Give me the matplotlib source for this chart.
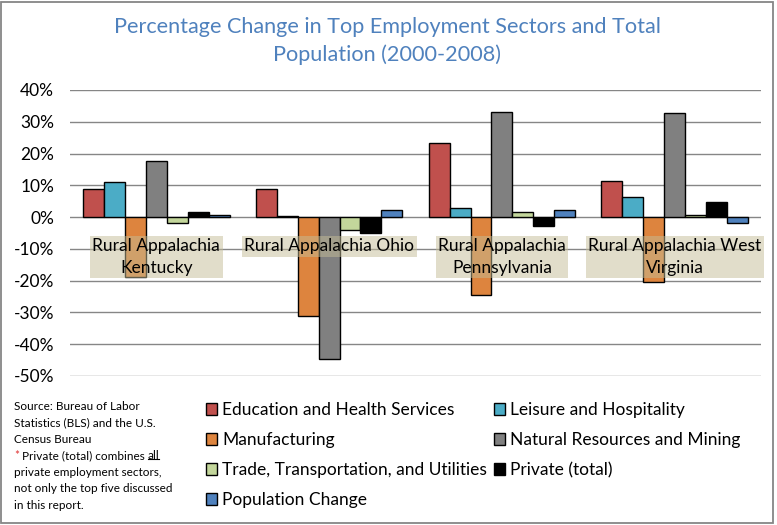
import matplotlib
matplotlib.use("Agg")
import matplotlib.pyplot as plt
import numpy as np
from matplotlib.patches import Rectangle, Patch
from matplotlib.lines import Line2D

plt.rcParams['font.family'] = ['Lato', 'DejaVu Sans']

# ---------------- data ----------------
categories = ["Rural Appalachia\nKentucky", "Rural Appalachia Ohio",
              "Rural Appalachia\nPennsylvania", "Rural Appalachia West\nVirginia"]
series_names = ["Education and Health Services", "Leisure and Hospitality",
                "Manufacturing", "Natural Resources and Mining",
                "Trade, Transportation, and Utilities", "Private (total)",
                "Population Change"]
education = [9.0, 8.7, 23.3, 11.3]
leisure = [11.2, 0.5, 2.8, 6.2]
manufacturing = [-19.0, -31.2, -24.6, -20.5]
natural_resources = [17.5, -44.8, 33.2, 32.9]
trade = [-2.0, -3.9, 1.5, 0.8]
private_total = [1.6, -4.9, -2.7, 4.7]
population = [0.8, 2.2, 2.2, -1.7]
yticks = [40, 30, 20, 10, 0, -10, -20, -30, -40, -50]
title = "Percentage Change in Top Employment Sectors and Total\nPopulation (2000-2008)"
source_lines = ["Source: Bureau of Labor", "Statistics (BLS) and the U.S.",
                "Census Bureau", None, "private employment sectors,",
                "not only the top five discussed", "in this report."]

series = [education, leisure, manufacturing, natural_resources, trade,
          private_total, population]
colors = ["#C0504D", "#4BACC6", "#DD843E", "#808080", "#C3D69B", "#000000", "#4F81BD"]

W, H = 777, 525
fig = plt.figure(figsize=(W / 100, H / 100), dpi=100)
ax = fig.add_axes([70 / W, 1 - 376 / H, 691 / W, 286 / H])

x = np.arange(len(categories))
gap = 1.26
w = 1.0 / (len(series) + gap)
for i, (vals, c) in enumerate(zip(series, colors)):
    ax.bar(x + (i - (len(series) - 1) / 2) * w, vals, width=w, color=c,
           edgecolor="black", linewidth=1.0, zorder=2)

ax.set_xlim(-0.5, len(categories) - 0.5)
ax.set_ylim(-50, 40)
ax.set_yticks(yticks)
ax.set_yticklabels([f"{t}%" for t in yticks], fontsize=12.5)
ax.set_xticks([])
ax.tick_params(axis="y", length=0, pad=11.5)
for s in ax.spines.values():
    s.set_visible(False)
ax.yaxis.grid(True, color="#868686", linewidth=1.0)
ax.set_axisbelow(True)

for i, lab in enumerate(categories):
    ax.annotate(lab, xy=(i, 0), xycoords="data", xytext=(0, -21.0),
                textcoords="offset pixels", ha="center", va="top",
                multialignment="center", fontsize=12.5, linespacing=1.42,
                zorder=5, annotation_clip=False,
                bbox=dict(boxstyle="square,pad=0.14", fc="#C4BD97", ec="none", alpha=0.5))

# title
fig.text(387 / W, 1 - 41 / H, title, ha="center", va="center", fontsize=15.6,
         color="#4F81BD", linespacing=1.4)

# legends
handles = [Patch(facecolor=c, edgecolor="black", linewidth=1.0) for c in colors]
order1 = [0, 2, 4, 6]
order2 = [1, 3, 5]
common = dict(frameon=False, fontsize=12.5, handlelength=0.65, handleheight=0.65,
              handletextpad=0.3, labelspacing=0.81, borderpad=0, borderaxespad=0,
              loc="center left")
fig.legend([handles[k] for k in order1], [series_names[k] for k in order1],
           bbox_to_anchor=(206 / W, 1 - 455 / H), **common)
fig.legend([handles[k] for k in order2], [series_names[k] for k in order2],
           bbox_to_anchor=(494 / W, 1 - 440 / H), **common)

# source note
y0 = 406.7
dy = 16.4
for k, line in enumerate(source_lines):
    yy = 1 - (y0 + k * dy) / H
    if line is not None:
        fig.text(14 / W, yy, line, fontsize=8.5, va="center", ha="left")
    else:
        t1 = fig.text(14 / W, yy, "*", fontsize=8.5, va="center", ha="left", color="#E03030")
        t2 = fig.text(0, 0, " Private (total) combines ", fontsize=8.5, va="center", ha="left")
        t3 = fig.text(0, 0, "all", fontsize=8.5, va="center", ha="left")
        fig.canvas.draw()
        r = fig.canvas.get_renderer()
        inv = fig.transFigure.inverted()
        b1 = t1.get_window_extent(r)
        t2.set_position((inv.transform((b1.x1, 0))[0], yy))
        fig.canvas.draw()
        b2 = t2.get_window_extent(r)
        t3.set_position((inv.transform((b2.x1, 0))[0], yy))
        fig.canvas.draw()
        b3 = t3.get_window_extent(r)
        (ux0, uy), (ux1, _) = inv.transform([(b3.x0, b3.y0 + 2.5), (b3.x1, b3.y0 + 2.5)])
        fig.add_artist(Line2D([ux0, ux1], [uy, uy], color="black", linewidth=0.8,
                              transform=fig.transFigure))

# outer border
fig.add_artist(Rectangle((1 / W, 2 / H), 772 / W, 521 / H, transform=fig.transFigure,
                         fill=False, edgecolor="#868686", linewidth=1.3))

fig.savefig("out.png", dpi=100)
